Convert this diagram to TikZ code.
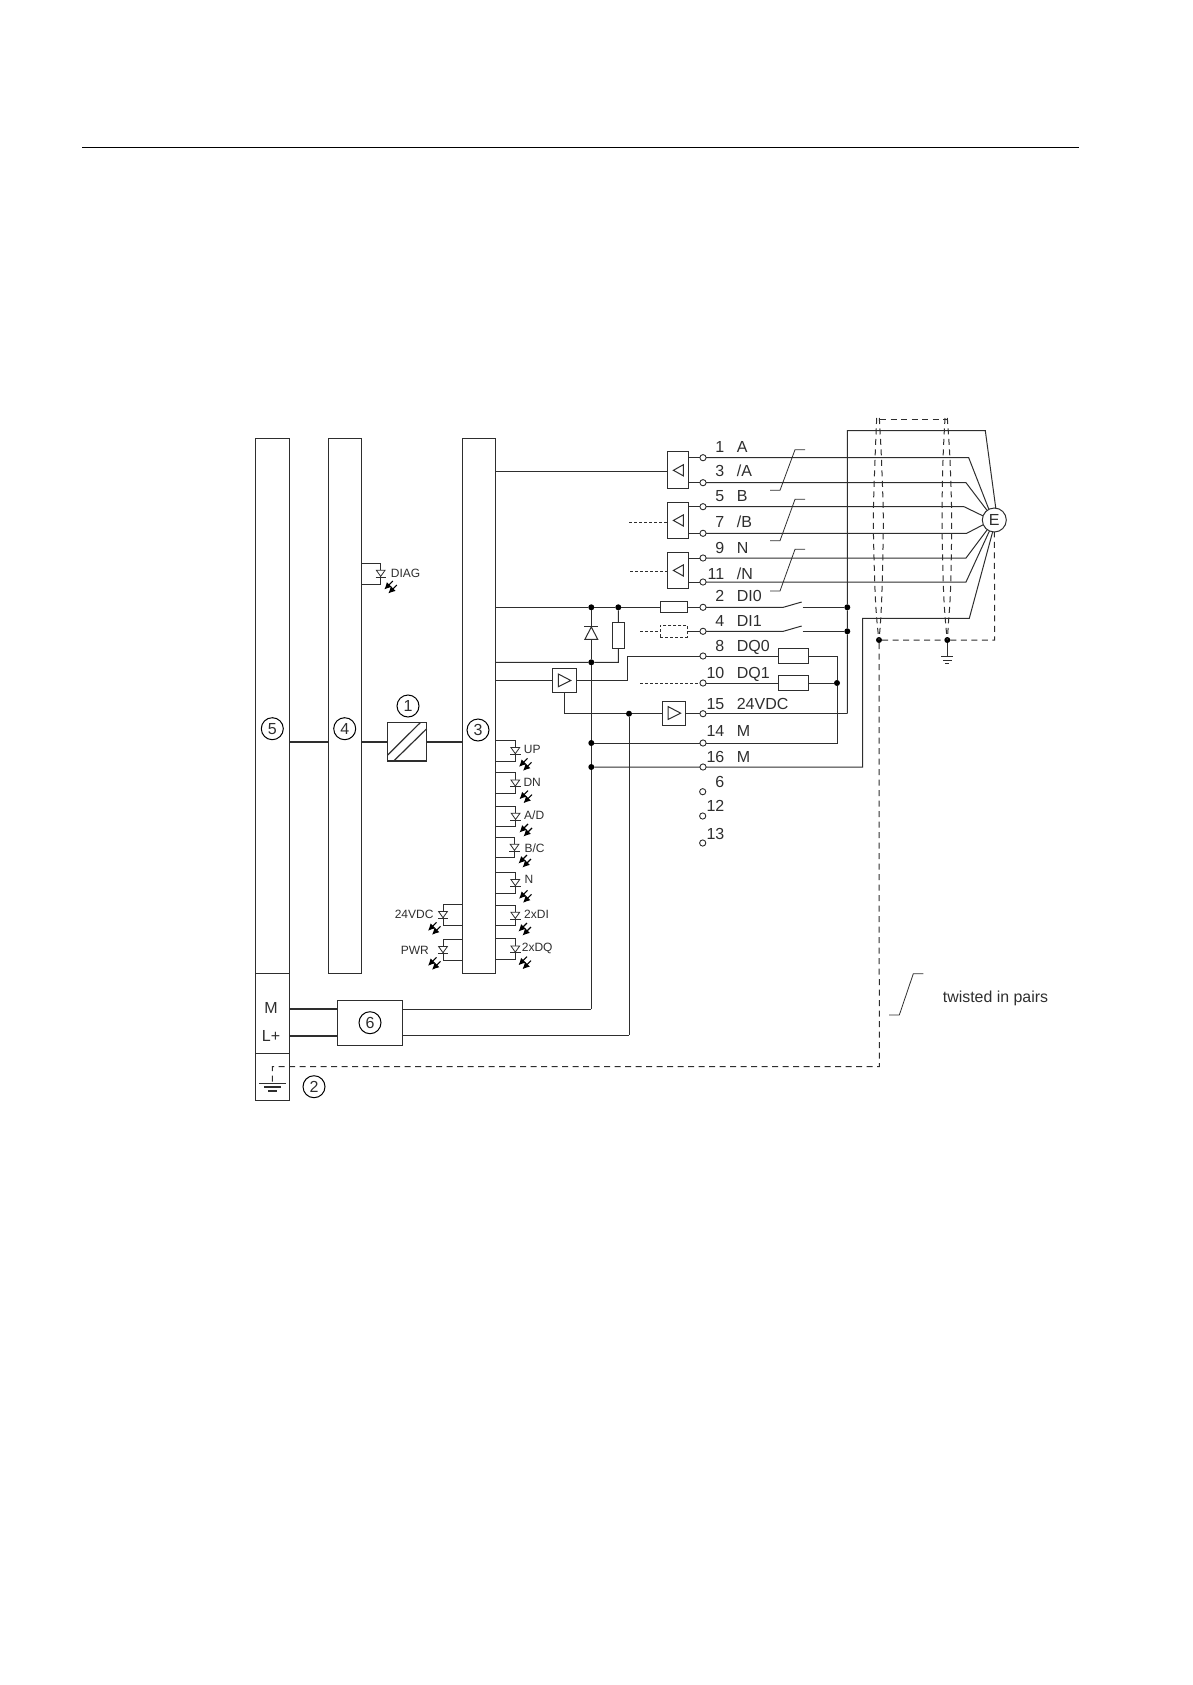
\documentclass[tikz,border=0pt]{standalone}
\usepackage{fontspec}
\setmainfont{Liberation Sans}
\usetikzlibrary{arrows.meta,calc}
\definecolor{ink}{HTML}{2E2E2E}
\newcommand{\fs}[1]{\fontsize{#1}{#1}\selectfont}
\tikzset{
  wire/.style={draw=ink,line width=1pt},
  heavy/.style={draw=ink,line width=1.6pt},
  shielddash/.style={draw=ink,line width=1pt,dash pattern=on 6pt off 4.5pt},
  fine/.style={draw=ink,line width=0.8pt,dash pattern=on 3pt off 2pt},
  barbox/.style={draw=ink,line width=1pt,anchor=north west,inner sep=0,outer sep=0},
  boxn/.style={draw=ink,line width=1pt,anchor=north west,inner sep=0,outer sep=0,fill=white},
  term/.style={circle,draw=ink,line width=0.9pt,fill=white,minimum size=6.2pt,inner sep=0,outer sep=0},
  jdot/.style={circle,fill=black,minimum size=6pt,inner sep=0,outer sep=0},
  num/.style={circle,draw=black,line width=1pt,minimum size=22pt,inner sep=0,outer sep=0,font=\fs{16},text=ink},
  bigtxt/.style={inner sep=0,font=\fs{16},text=ink,yshift=-5.7pt},
  smalltxt/.style={inner sep=0,font=\fs{12},text=ink,yshift=-4.3pt},
  ray/.style={draw=black,line width=1.1pt,-{Latex[length=7pt,width=7pt]}}
}
% LED mark: #1 x of the bracket, #2 top y of the bracket, #3 bottom y, #4 bar x, #5 ray centre x
\newcommand{\ledmark}[5]{%
  \draw[wire] (#4,#2) -- (#1,#2) -- (#1,#3) -- (#4,#3);
  \draw[draw=ink,line width=0.8pt,fill=white] (#1-4.4,#2+7.2) -- (#1+4.4,#2+7.2) -- (#1,#2+13.4) -- cycle;
  \draw[draw=ink,line width=0.8pt] (#1-5.2,#2+14) -- (#1+5.2,#2+14);
  \begin{scope}[shift={(#5,#2+24.5)}]
    \draw[ray] (6.5,-2.5) -- (-2,6);
    \draw[ray] (2.5,-6.5) -- (-6,2);
  \end{scope}}
\begin{document}
\begin{tikzpicture}[x=1pt,y=-1pt]
\useasboundingbox (0,0) rectangle (1192,1685);
% header rule
\coordinate (ruleL) at (82,147.3);
\coordinate (ruleR) at (1079.3,147.3);
\draw[draw=black,line width=1.1pt] (ruleL) -- (ruleR);

% bars
\node[barbox,minimum width=34pt,minimum height=534.8pt] (b5) at (255.5,438.5) {};
\node[barbox,minimum width=33.7pt,minimum height=534.8pt] (b4) at (328,438.5) {};
\node[barbox,minimum width=33.7pt,minimum height=534.8pt] (b3) at (462,438.5) {};
\node[barbox,minimum width=34pt,minimum height=79.7pt] (pw) at (255.5,973.3) {};
\node[barbox,minimum width=34pt,minimum height=47pt] (pe) at (255.5,1053) {};
\node[num] (n5) at (272.3,728.7) {5};
\node[num] (n4) at (344.7,728.7) {4};
\node[num] (n3) at (478,730) {3};
\node[num] (n1) at (408,706) {1};
\node[num] (n2) at (314,1086.7) {2};
\node[inner sep=0,font=\fs{16},text=ink] (lM) at (271,1007.7) {M};
\node[inner sep=0,font=\fs{16},text=ink] (lL) at (271,1035.7) {L+};

% converter
\node[boxn,line width=1.3pt,minimum width=39pt,minimum height=38.3pt] (conv) at (387.7,722.7) {};
\draw[wire,line width=1.2pt] ($(conv.south west)+(0,-6)$) -- ($(conv.north east)+(-6.5,0)$);
\draw[wire,line width=1.2pt] ($(conv.south west)+(6,0)$) -- ($(conv.north east)+(0,6)$);
\coordinate (cy) at (0,742);
\draw[heavy] (b5.east |- cy) -- (b4.west |- cy);
\draw[heavy] (b4.east |- cy) -- (conv.west |- cy);
\draw[heavy] (conv.east |- cy) -- (b3.west |- cy);

% power box 6
\node[boxn,minimum width=65pt,minimum height=44.7pt] (p6) at (337.3,1000.3) {};
\node[num] (n6) at (370,1022.7) {6};

% terminals
\foreach \n/\y in {1/457.7,3/482.7,5/506.7,7/533.3,9/558,11/582,2/607.3,4/631.3,8/656,10/683,15/713.7,14/743,16/767}
  \node[term] (t\n) at (703,\y) {};
\foreach \n/\y in {6/791.7,12/816,13/843}
  \node[term] (t\n) at (702.7,\y) {};
% terminal labels
\foreach \n/\y in {1/447,3/471,5/495.7,7/522,9/547.7,11/574,2/596,4/621,8/646,10/673,15/704,14/731,16/756.7,6/782,12/805.7,13/834}
  \node[bigtxt,anchor=base east] (ln\n) at (724.5,\y) {\n};
\foreach \k/\l/\y in {a/A/447,b/{/A}/471,c/B/495.7,d/{/B}/522,e/N/547.7,f/{/N}/574,g/DI0/596,h/DI1/621,i/DQ0/646,j/DQ1/673,k/24VDC/704,l/M/731,m/M/756.7}
  \node[bigtxt,anchor=base west] (ll\k) at (736.6,\y) {\l};

% receivers
\node[boxn,minimum width=20.6pt,minimum height=36.6pt] (r1) at (667.7,451.7) {};
\node[boxn,minimum width=20.6pt,minimum height=36.3pt] (r2) at (667.7,502) {};
\node[boxn,minimum width=20.6pt,minimum height=36.3pt] (r3) at (667.7,552) {};
\foreach \c in {r1,r2,r3}
  \draw[wire] ($(\c.center)+(-4.6,0.3)$) -- ($(\c.center)+(5.4,-5.3)$) -- ($(\c.center)+(5.4,5.9)$) -- cycle;
\draw[wire] (r1.east |- t1) -- (t1);
\draw[wire] (r1.east |- t3) -- (t3);
\draw[wire] (r2.east |- t5) -- (t5);
\draw[wire] (r2.east |- t7) -- (t7);
\draw[wire] (r3.east |- t9) -- (t9);
\draw[wire] (r3.east |- t11) -- (t11);
\coordinate (ra) at (0,471);
\draw[wire] (b3.east |- ra) -- (r1.west |- ra);
\coordinate (rb) at (629,522);
\coordinate (rc) at (630,571);
\draw[fine] (rb) -- (r2.west |- rb);
\draw[fine] (rc) -- (r3.west |- rc);

% encoder
\node[circle,draw=ink,line width=1pt,fill=white,minimum size=24pt,inner sep=0,outer sep=0,font=\fs{16},text=ink] (E) at (994.3,520) {E};
\coordinate (e1) at (968.7,457.7);
\coordinate (e3) at (966,482.7);
\coordinate (e5) at (964,506.7);
\coordinate (e7) at (966.7,533.3);
\coordinate (e9) at (966,558);
\coordinate (e11) at (966,582);
\draw[wire] (t1) -- (e1) -- (E.117);
\draw[wire] (t3) -- (e3) -- (E.127);
\draw[wire] (t5) -- (e5) -- (E.160);
\draw[wire] (t7) -- (e7) -- (E.203);
\draw[wire] (t9) -- (e9) -- (E.234);
\draw[wire] (t11) -- (e11) -- (E.246);

% twisted pair marks
\foreach \a/\b/\n in {490.3/449.7/p1,540.7/499.3/p2,591/549.3/p3}{
  \coordinate (\n a) at (770,\a);
  \coordinate (\n b) at (780,\a);
  \coordinate (\n c) at (795,\b);
  \coordinate (\n d) at (805,\b);
  \draw[draw=ink,line width=0.8pt] (\n a) -- (\n b) -- (\n c) -- (\n d);
}
\coordinate (tpa) at (889,1015);
\coordinate (tpb) at (899.3,1015);
\coordinate (tpc) at (913.3,973.7);
\coordinate (tpd) at (923.3,973.7);
\draw[draw=ink,line width=0.8pt] (tpa) -- (tpb) -- (tpc) -- (tpd);
\node[inner sep=0,font=\fs{15.9},text=ink,anchor=base west] (tp) at (942.7,1002) {twisted in pairs};

% 24 V bus on the right
\node[jdot] (j2) at (847.3,607.3) {};
\node[jdot] (j4) at (847.3,631.3) {};
\coordinate (vt) at (847.3,430.7);
\coordinate (vb) at (847.3,713.7);
\coordinate (et) at (985.3,430.7);
\draw[wire] (vb) -- (j4) -- (j2) -- (vt) -- (et) -- (E.83);
\draw[wire] (t15) -- (vb);

% DI inputs
\node[boxn,minimum width=27pt,minimum height=11.7pt] (rd0) at (660.3,601) {};
\node[boxn,dashed,line width=0.8pt,dash pattern=on 3pt off 2pt,minimum width=27pt,minimum height=12pt] (rd1) at (660.3,625.3) {};
\draw[wire] (rd0.east |- t2) -- (t2);
\draw[wire] (rd1.east |- t4) -- (t4);
\coordinate (s2a) at (783.3,607.3);
\coordinate (s2b) at (801.7,602);
\coordinate (s2c) at (802.5,607.3);
\coordinate (s4a) at (783.3,631.3);
\coordinate (s4b) at (801.7,626);
\coordinate (s4c) at (802.5,631.3);
\draw[wire] (t2) -- (s2a) -- (s2b);
\draw[wire] (s2c) -- (j2);
\draw[wire] (t4) -- (s4a) -- (s4b);
\draw[wire] (s4c) -- (j4);
\coordinate (d1) at (640,631.3);
\draw[fine] (d1) -- (rd1.west |- d1);

% input node line with diode and pull resistor
\node[jdot] (ja) at (591.3,607.3) {};
\node[jdot] (jb) at (618.3,607.3) {};
\node[jdot] (jc) at (591.3,662.3) {};
\node[jdot] (jm14) at (591.3,743) {};
\node[jdot] (jm16) at (591.3,767) {};
\coordinate (mc) at (591.3,1009);
\draw[wire] (b3.east |- ja) -- (ja) -- (jb) -- (rd0.west |- jb);
\draw[wire] (ja) -- (jc) -- (jm14) -- (jm16) -- (mc);
\draw[wire,fill=white] (584.9,639.3) -- (597.7,639.3) -- (591.3,627) -- cycle;
\draw[wire] (584.3,626.7) -- (598.3,626.7);
\node[boxn,minimum width=12.4pt,minimum height=26.4pt] (rp) at (612.3,622.3) {};
\draw[wire] (jb) -- (rp);
\coordinate (rpb) at (618.3,662.3);
\draw[wire] (rp) -- (rpb) -- (jc) -- (b3.east |- jc);

% output amplifier 1
\node[boxn,minimum width=23.3pt,minimum height=23.6pt] (a1) at (552.7,668.7) {};
\draw[wire] ($(a1.center)+(-6,-6.5)$) -- ($(a1.center)+(6.4,0)$) -- ($(a1.center)+(-6,6.2)$) -- cycle;
\coordinate (a1l) at (0,680.5);
\coordinate (dq1) at (627.3,680.5);
\coordinate (dq2) at (627.3,656);
\draw[wire] (b3.east |- a1l) -- (a1.west |- a1l);
\draw[wire] (a1.east |- a1l) -- (dq1) -- (dq2) -- (t8);

% output amplifier 2
\node[boxn,minimum width=23pt,minimum height=23.7pt] (a2) at (662.7,701.3) {};
\draw[wire] ($(a2.center)+(-6,-6.5)$) -- ($(a2.center)+(6.4,0)$) -- ($(a2.center)+(-6,6.2)$) -- cycle;
\node[jdot] (jl) at (629,713.7) {};
\coordinate (a1d) at (564.3,713.7);
\draw[wire] (a1.south -| a1d) -- (a1d) -- (jl) -- (a2.west |- jl);
\draw[wire] (a2.east |- t15) -- (t15);
\coordinate (lc) at (629,1035.3);
\draw[wire] (jl) -- (lc);

% load resistors
\node[boxn,minimum width=30.3pt,minimum height=15pt] (q0) at (778,648.7) {};
\node[boxn,minimum width=30.3pt,minimum height=15pt] (q1) at (778,675.7) {};
\node[jdot] (jq) at (837,683) {};
\coordinate (qt) at (837,656);
\coordinate (qb) at (837,743);
\draw[wire] (t8) -- (q0.west |- t8);
\draw[wire] (t10) -- (q1.west |- t10);
\draw[wire] (q0.east |- qt) -- (qt) -- (jq) -- (qb) -- (t14) -- (jm14);
\draw[wire] (q1.east |- jq) -- (jq);
\coordinate (d10) at (640,683);
\draw[fine] (d10) -- (t10);

% 16 M and return wire
\coordinate (rb1) at (862.7,767);
\coordinate (rb2) at (862.7,618.3);
\coordinate (rb3) at (969.3,618.3);
\draw[wire] (jm16) -- (t16) -- (rb1) -- (rb2) -- (rb3) -- (E.262);

% power wires
\coordinate (m1) at (0,1008.7);
\coordinate (m2) at (0,1035.7);
\draw[heavy] (pw.east |- m1) -- (p6.west |- m1);
\draw[heavy] (pw.east |- m2) -- (p6.west |- m2);
\draw[wire] (p6.east |- mc) -- (mc);
\draw[wire] (p6.east |- lc) -- (lc);

% shield
\node[jdot] (sl) at (879,640) {};
\node[jdot] (sr) at (947.3,640) {};
\draw[shielddash] plot[smooth,tension=0.5] coordinates {(876.7,418) (875,460) (873.3,520) (875,590) (877,622) (sl)};
\draw[shielddash] plot[smooth,tension=0.5] coordinates {(879.3,418) (881.5,460) (883.3,520) (882,590) (880.5,622) (sl)};
\draw[shielddash] plot[smooth,tension=0.5] coordinates {(945,418) (943,460) (942,520) (943.5,590) (945.5,622) (sr)};
\draw[shielddash] plot[smooth,tension=0.5] coordinates {(947.3,418) (950,460) (951.7,520) (950.5,590) (948.5,622) (sr)};
\coordinate (stl) at (880,419);
\coordinate (str) at (946.5,419);
\draw[shielddash] (stl) -- (str);
\coordinate (sc) at (994.7,640);
\draw[shielddash] (sl) -- (sr) -- (sc) -- (E.270);
\coordinate (g1) at (947.3,656.7);
\draw[wire] (sr) -- (g1);
\draw[wire] (941,656.7) -- (953,656.7);
\draw[draw=ink,line width=0.9pt] (943,660) -- (951.5,660);
\draw[draw=ink,line width=0.9pt] (945.3,663) -- (949.3,663);
% long earth line
\coordinate (eb) at (879.3,1066.7);
\coordinate (el) at (272.3,1066.7);
\coordinate (eg) at (272.3,1083.3);
\draw[shielddash] (sl) -- (eb) -- (el) -- (eg);
\draw[draw=ink,line width=1.4pt] (259,1083.3) -- (285.7,1083.3);
\draw[draw=ink,line width=1.2pt] (264,1087) -- (280.5,1087);
\draw[draw=ink,line width=1.2pt] (268,1091) -- (277,1091);

% LEDs
\ledmark{380.7}{563}{584}{361.7}{390.3}
\node[smalltxt,anchor=base west] (lDIAG) at (390.7,572.7) {DIAG};
\ledmark{515.3}{740.3}{761}{495.7}{525}
\ledmark{515.3}{772.7}{793.3}{495.7}{525.5}
\ledmark{515.6}{806}{826.7}{495.7}{525.5}
\ledmark{514.5}{837}{857.3}{495.7}{524.5}
\ledmark{515.3}{872.3}{893}{495.7}{525}
\ledmark{515.3}{905}{925.7}{495.7}{524.5}
\ledmark{515.3}{938.7}{959.3}{495.7}{524.5}
\ledmark{443}{904.3}{925.3}{462}{434}
\ledmark{443}{939.3}{960}{462}{434}
\node[smalltxt,anchor=base west] (lUP) at (523.7,749.3) {UP};
\node[smalltxt,anchor=base west] (lDN) at (523.3,782) {DN};
\node[smalltxt,anchor=base west] (lAD) at (524,814.7) {A/D};
\node[smalltxt,anchor=base west] (lBC) at (524.3,847.7) {B/C};
\node[smalltxt,anchor=base west] (lN) at (524.3,878.7) {N};
\node[smalltxt,anchor=base west] (lDI) at (524,913.7) {2xDI};
\node[smalltxt,anchor=base west] (lDQ) at (521.7,947.3) {2xDQ};
\node[smalltxt,anchor=base east] (l24) at (433.7,914) {24VDC};
\node[smalltxt,anchor=base east] (lPWR) at (429,950) {PWR};
\end{tikzpicture}
\end{document}
